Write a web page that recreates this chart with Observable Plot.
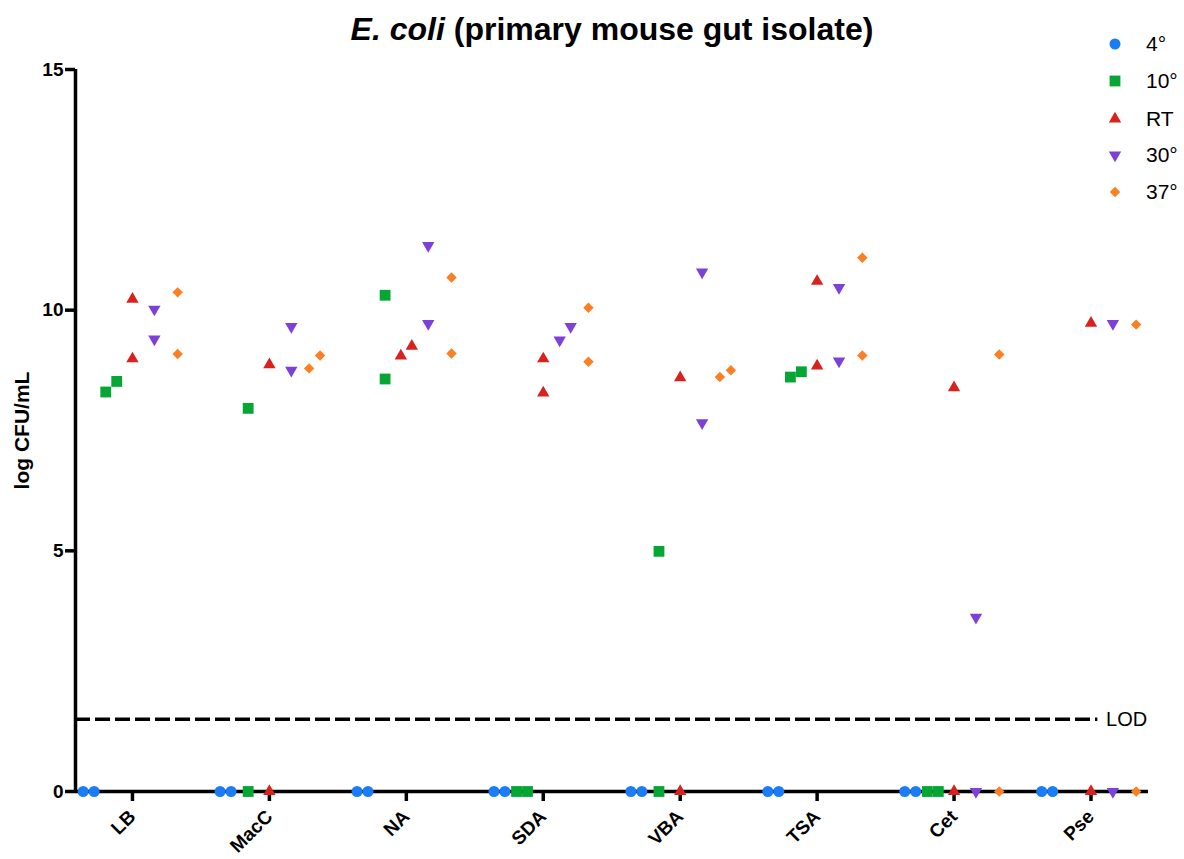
<!DOCTYPE html>
<html>
<head>
<meta charset="utf-8">
<script src="https://cdn.jsdelivr.net/npm/d3@7"></script>
<script src="https://cdn.jsdelivr.net/npm/@observablehq/plot@0.6"></script>
<style>
  html, body { margin: 0; padding: 0; background: #fff; }
  #wrap { position: relative; width: 1184px; height: 859px; font-family: "Liberation Sans", Arial, sans-serif; }
  #title { position: absolute; left: 0; width: 1224px; top: 13px; text-align: center; font-size: 32px; line-height: 32px; font-weight: bold; color: #000; }
  #legend { position: absolute; left: 1103px; top: 0; }
  .lg { position: absolute; left: 0; height: 24px; display: flex; align-items: center; white-space: nowrap; font-size: 21px; color: #000; }
  .lg svg { width: 24px; height: 24px; margin-right: 19px; }
</style>
</head>
<body>
<div id="wrap">
  <div id="chart"></div>
  <div id="title"><i>E. coli</i> (primary mouse gut isolate)</div>
  <div id="legend"></div>
</div>
<script>
// ---- data ----
const categories = ["LB", "MacC", "NA", "SDA", "VBA", "TSA", "Cet", "Pse"];
const temperatures = ["4°", "10°", "RT", "30°", "37°"];
// replicate values (log CFU/mL) per category, one array per temperature
const temp4  = [[0, 0], [0, 0], [0, 0], [0, 0], [0, 0], [0, 0], [0, 0], [0, 0]];
const temp10 = [[8.30, 8.52], [0, 7.96], [10.31, 8.57], [0, 0], [4.99, 0], [8.61, 8.72], [0, 0], []];
const tempRT = [[10.23, 8.99], [0, 8.87], [9.05, 9.25], [8.99, 8.28], [8.60, 0], [10.60, 8.84], [8.39, 0], [9.73, 0]];
const temp30 = [[10.02, 9.40], [9.66, 8.75], [11.34, 9.72], [9.38, 9.66], [10.79, 7.66], [10.47, 8.94], [3.62, 0], [9.72, 0]];
const temp37 = [[10.37, 9.09], [8.79, 9.06], [10.68, 9.10], [10.05, 8.93], [8.61, 8.75], [11.09, 9.06], [9.08, 0], [9.70, 0]];
const lodValue = [1.5];
const yTicks = [0, 5, 10, 15];
const yLabel = "log CFU/mL";

// ---- styling ----
const colors = ["#1b7cf6", "#05a633", "#d8221e", "#7d40d8", "#fc7f23"];
const triDown = {
  draw(ctx, size) {
    const y = -Math.sqrt(size / (Math.sqrt(3) * 3));
    ctx.moveTo(0, -2 * y);
    ctx.lineTo(-Math.sqrt(3) * y, y);
    ctx.lineTo(Math.sqrt(3) * y, y);
    ctx.closePath();
  }
};
const symbols = ["circle", "square", "triangle", triDown, "diamond2"];
const d3symbols = [d3.symbolCircle, d3.symbolSquare, d3.symbolTriangle, triDown, d3.symbolDiamond2];
const radii = [5.5, 6.1, 4.6, 4.6, 4.7];
const groupOffset = [-0.32, -0.155, 0, 0.16, 0.33];
const spread = 0.08;

// ---- build rows (GraphPad-like scatter: overlapping points spread sideways) ----
const seriesList = [temp4, temp10, tempRT, temp30, temp37];
const rows = [];
seriesList.forEach((series, ti) => {
  series.forEach((vals, ci) => {
    const sorted = vals.slice().sort((a, b) => a - b);
    const clusters = [];
    sorted.forEach(v => {
      const last = clusters[clusters.length - 1];
      if (last && v - last[last.length - 1] < 0.32) last.push(v);
      else clusters.push([v]);
    });
    clusters.forEach(cl => {
      cl.forEach((v, j) => {
        rows.push({
          temp: temperatures[ti],
          ti,
          cat: categories[ci],
          x: ci + groupOffset[ti] + (j - (cl.length - 1) / 2) * spread,
          y: v
        });
      });
    });
  });
});

const n = categories.length;
const xMin = -0.416;
const xMax = n - 1 + 0.42;

const chart = Plot.plot({
  width: 1184,
  height: 859,
  marginLeft: 75,
  marginRight: 36,
  marginTop: 69,
  marginBottom: 68,
  style: { fontFamily: "'Liberation Sans', Arial, sans-serif", background: "white", color: "black" },
  x: { domain: [xMin, xMax], axis: null },
  y: { domain: [0, 15], axis: null },
  marks: [
    Plot.ruleY(lodValue, { x1: xMin, x2: n - 1 + 0.05, stroke: "black", strokeWidth: 3.5, strokeDasharray: "15,5" }),
    Plot.text(["LOD"], { x: n - 1 + 0.11, y: lodValue[0], text: d => d, textAnchor: "start", fontSize: 20, fill: "black" }),
    Plot.axisX({
      ticks: d3.range(n), tickFormat: i => categories[i], tickRotate: -45, tickSize: 10, tickPadding: 12,
      fontSize: 19, fontWeight: "bold", strokeWidth: 3.5, label: null
    }),
    Plot.axisY({
      ticks: yTicks, tickSize: 10, tickPadding: 2, fontSize: 19, fontWeight: "bold", strokeWidth: 3.5,
      label: null
    }),
    Plot.text([yLabel], { frameAnchor: "left", textAnchor: "middle", rotate: -90, dx: -53, text: d => d, fontSize: 21, fontWeight: "bold", fill: "black" }),
    Plot.ruleY([0], { stroke: "black", strokeWidth: 3.5 }),
    Plot.ruleX([xMin], { stroke: "black", strokeWidth: 3.5 }),
    ...temperatures.map((t, ti) => Plot.dot(rows.filter(d => d.ti === ti), {
      x: "x", y: "y", symbol: symbols[ti], r: radii[ti], fill: colors[ti], stroke: "none"
    }))
  ]
});
document.getElementById("chart").appendChild(chart);

// ---- legend ----
const legendY = [44, 81, 119, 155, 192];
const legend = document.getElementById("legend");
temperatures.forEach((t, ti) => {
  const item = document.createElement("div");
  item.className = "lg";
  item.style.top = (legendY[ti] - 12) + "px";
  const size = Math.PI * radii[ti] * radii[ti];
  const path = d3.symbol(d3symbols[ti], size)();
  item.innerHTML = `<svg viewBox="-12 -12 24 24"><path d="${path}" fill="${colors[ti]}"></path></svg><span>${t}</span>`;
  legend.appendChild(item);
});
</script>
</body>
</html>
